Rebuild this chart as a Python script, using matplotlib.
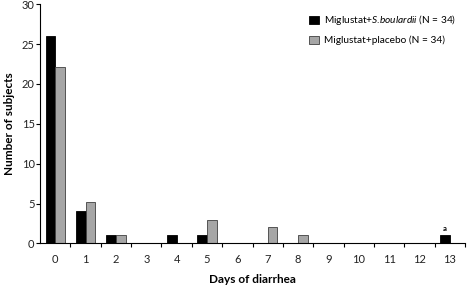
import numpy as np
import matplotlib.pyplot as plt

plt.rcParams['font.family'] = ['Lato', 'DejaVu Sans']
plt.rcParams['mathtext.fontset'] = 'custom'
plt.rcParams['mathtext.it'] = 'Lato:italic'
plt.rcParams['mathtext.rm'] = 'Lato'

days = list(range(14))
boulardii = [26, 4, 1, 0, 1, 1, 0, 0, 0, 0, 0, 0, 0, 1]
placebo = [22.1, 5.2, 1, 0, 0, 2.9, 0, 2, 1, 0, 0, 0, 0, 0]

fig = plt.figure(figsize=(4.72, 2.88), dpi=100)
ax = fig.add_axes([0.085, 0.155, 0.9, 0.83])

x = np.arange(len(days))
w = 0.32
ax.bar(x - w / 2, boulardii, w, color='black', edgecolor='black', linewidth=0.6,
       label='Miglustat+$\\it{S}$.$\\it{boulardii}$ (N = 34)')
ax.bar(x + w / 2, placebo, w, color='#a6a6a6', edgecolor='#404040', linewidth=0.6,
       label='Miglustat+placebo (N = 34)')
ax.text(x[13] - w / 2, boulardii[13] + 0.4, 'a', ha='center', va='bottom',
        fontsize=5.5, fontweight='bold')

ax.set_xlim(-0.5, 13.5)
ax.set_ylim(0, 30)
ax.set_yticks(range(0, 31, 5))
ax.set_xticks(x + 0.5, minor=False)
ax.set_xticklabels([])
ax.set_xticks(x, minor=True)
ax.set_xticklabels([str(d) for d in days], minor=True)
ax.tick_params(axis='x', which='major', direction='out', length=3, width=0.8)
ax.tick_params(axis='x', which='minor', length=0, pad=8, labelsize=8, labelcolor='#222222')
ax.tick_params(axis='y', direction='out', length=3, width=0.8, labelsize=8, pad=1,
               labelcolor='#222222')
for s in ['top', 'right']:
    ax.spines[s].set_visible(False)
for s in ['left', 'bottom']:
    ax.spines[s].set_linewidth(0.8)

ax.set_ylabel('Number of subjects', fontsize=8.5, fontweight='bold', labelpad=5)
ax.set_xlabel('Days of diarrhea', fontsize=8.5, fontweight='bold', labelpad=6)

ax.legend(loc='upper right', bbox_to_anchor=(1.0, 1.0), frameon=False, fontsize=7.3,
          handlelength=0.9, handleheight=0.9, handletextpad=0.5, labelspacing=0.8)

fig.savefig('out.png', dpi=100)
